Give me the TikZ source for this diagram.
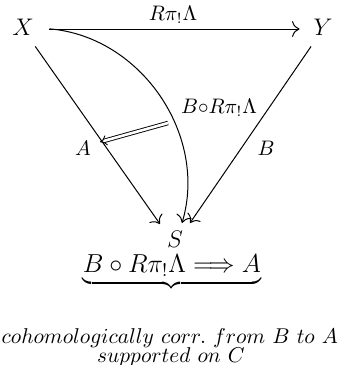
\RequirePackage{fix-cm}
\documentclass[tikz,border=0pt]{standalone}
\usetikzlibrary{arrows.meta}
\begin{document}
\begin{tikzpicture}[x=0.5pt,y=-0.5pt,
  obj/.style={inner sep=0pt, font=\fontsize{12}{14}\selectfont, text depth=2.2pt},
  objs/.style={inner sep=0pt, font=\fontsize{12}{14}\selectfont},
  lbl/.style={inner sep=0pt, font=\fontsize{10.5}{12}\selectfont},
  arr/.style={line width=0.5pt, -{To[scale=1.4]}},
  dbl/.style={line width=0.45pt, double, double distance=1.3pt, -{Implies}},
  txt/.style={inner sep=0pt, font=\fontsize{10.7}{11}\selectfont, anchor=base}]
\useasboundingbox (0,0) rectangle (338,365);
% objects
\node[obj, minimum width=26pt, minimum height=17pt] (X) at (23,29) {$X$};
\node[obj, minimum width=23pt, minimum height=17pt] (Y) at (323,29) {$Y$};
\node[objs] (S) at (175,239.5) {$S$};
\path (S.center) +(-15,-15.5) coordinate (sL);
\path (S.center) +(7,-16.5) coordinate (sM);
\path (S.center) +(15,-16.5) coordinate (sR);
% arrows
\draw[arr] (X) -- (Y);
\draw[arr] (X) -- (sL);
\draw[arr] (X) to[bend left=51] (sM);
\draw[arr] (Y) -- (sR);
% 2-cell
\coordinate (d1) at (168,123);
\coordinate (d2) at (100,142);
\draw[dbl] (d1) -- (d2);
% labels
\node[lbl] (l1) at (173,15) {$R\pi_!\Lambda$};
\node[lbl] (l2) at (219,108) {$B{\circ}R\pi_!\Lambda$};
\node[lbl] (l3) at (83,148) {$A$};
\node[lbl] (l4) at (266,148) {$B$};
% bottom formula
\node[inner sep=0pt, font=\fontsize{13}{15}\selectfont, anchor=north] (F) at (172,254)
  {$\displaystyle\underbrace{B\circ R\pi_!\Lambda\Longrightarrow A}$};
\node[txt] (T1) at (170,343) {$cohomologically\ corr.\ from\ B\ to\ A$};
\node[txt] (T2) at (171,362) {$supported\ on\ C$};
\end{tikzpicture}
\end{document}
